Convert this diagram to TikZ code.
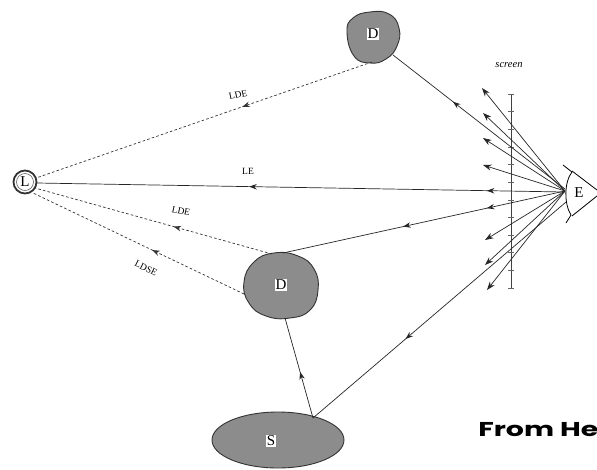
\documentclass[tikz,border=0pt]{standalone}
\usepackage{fontspec}
\setmainfont{Liberation Serif}
\setsansfont{Poppins}
\usetikzlibrary{arrows.meta,decorations.markings}

\tikzset{
  lightpath/.style={line width=0.7pt, black!85},
  dashpath/.style={line width=0.7pt, black!80, dash pattern=on 2.6pt off 2.2pt},
  midarrow/.style={postaction={decorate,decoration={markings,
      mark=at position #1 with {\arrow{Stealth[length=7.5pt,width=5.5pt]}}}}},
  fanray/.style={line width=0.7pt, black!85, -{Stealth[length=8.5pt,width=6pt]}},
  surface/.style={fill=black!45, draw=black!80, line width=0.9pt},
  letterbox/.style={fill=white, inner sep=1pt, font=\fontsize{15}{15}\selectfont},
  pathlabel/.style={font=\fontsize{9.5}{10}\selectfont, inner sep=0pt},
}

\begin{document}
\begin{tikzpicture}[x=1pt,y=-1pt]
  \useasboundingbox (0,0) rectangle (597,469);

  % ---- surfaces ----
  % upper diffuse surface
  \draw[surface] plot[smooth cycle, tension=0.8] coordinates
    {(347,32) (353,18) (370,12) (389,14) (399,28) (397,46) (386,59) (370,63) (354,56)};
  \node[letterbox] (D1) at (373,34) {D};
  % lower diffuse surface
  \draw[surface] plot[smooth cycle, tension=0.8] coordinates
    {(244,282) (254,262) (274,253) (298,256) (314,269) (318,290) (310,310) (290,318) (266,316) (249,303)};
  \node[letterbox] (D2) at (281,285) {D};
  % specular surface
  \draw[surface] (278,440) ellipse [x radius=66, y radius=28];
  \node[letterbox, inner sep=0.8pt] (S) at (271,441) {S};

  % light source
  \draw[line width=1.8pt, black!80] (25,182) circle [radius=11.5];
  \draw[line width=0.5pt, black!70] (25,182) circle [radius=8.5];
  \node[font=\fontsize{15}{15}\selectfont, inner sep=0pt] (L) at (25,182) {L};

  % ---- screen ----
  \draw[line width=0.9pt, black!75] (511,94) coordinate (scrtop) -- (511,288) coordinate (scrbot);
  \foreach \k in {0,...,11}
    \draw[line width=0.6pt, black!60] (508,94+17.6363*\k) -- (514,94+17.6363*\k);
  \node[font=\itshape\fontsize{10.5}{10.5}\selectfont] (scrlabel) at (509,65) {screen};

  % ---- eye ----
  \coordinate (eye) at (565,191);
  \draw[line width=0.8pt] (563,165) -- (572,172);
  \draw[line width=0.8pt] (572,172) .. controls (564,182) and (564,204) .. (571,215);
  \draw[line width=0.8pt] (571,215) -- (566,223);
  \draw[line width=0.8pt] (572,171) -- (597,190);
  \draw[line width=0.8pt] (572,216) -- (597,196);
  \node[font=\fontsize{15}{15}\selectfont, inner sep=0pt] (E) at (579,193) {E};

  % ---- connector end points ----
  \coordinate (eLE) at (565,192);
  \coordinate (eD1) at (565,189);
  \coordinate (eD2) at (565,191);
  \coordinate (eS)  at (566,202);
  \coordinate (d1out) at (393,55);
  \coordinate (d1in)  at (372,62);
  \coordinate (d2out) at (283,253);
  \coordinate (d2top) at (272,254);
  \coordinate (d2left) at (244,294);
  \coordinate (d2bot) at (285,318);
  \coordinate (stop)  at (313,418);
  \coordinate (lR)  at (37,183);
  \coordinate (lUp) at (36,178);
  \coordinate (lDn) at (35,188);
  \coordinate (lLo) at (33,193);

  % ---- light paths (drawn from the eye back towards the light) ----
  \draw[lightpath, midarrow=0.148, midarrow=0.598] (eLE) -- (lR);
  \node[pathlabel] (lblLE) at (248,171) {LE};

  \draw[lightpath, midarrow=0.651] (eD1) -- (d1out);
  \draw[dashpath, midarrow=0.386] (d1in) -- (lUp);
  \node[pathlabel, rotate=12] (lblLDEa) at (238,95) {LDE};

  \draw[lightpath, midarrow=0.277, midarrow=0.574] (eD2) -- (d2out);
  \draw[dashpath, midarrow=0.415] (d2top) -- (lDn);
  \node[pathlabel, rotate=-12] (lblLDEb) at (181,211) {LDE};

  \draw[lightpath, midarrow=0.634] (eS) -- (stop);
  \draw[lightpath, midarrow=0.46] (stop) -- (d2bot);
  \draw[dashpath, midarrow=0.435] (d2left) -- (lLo);
  \node[pathlabel, rotate=-27] (lblLDSE) at (146,268) {LDSE};

  % ---- rays leaving the eye through the screen ----
  \foreach \x/\y [count=\i] in {482/88, 483/113, 483/138, 483/165, 485/240, 485/265, 487/290}
    \draw[fanray] (eye) -- (\x,\y) coordinate (ray\i);

  % ---- caption, cut by the page edge ----
  \begin{scope}
    \clip (0,0) rectangle (597,469);
    \node[anchor=base west, xscale=1.42, font=\sffamily\bfseries\fontsize{20}{20}\selectfont, inner sep=0pt]
      (credit) at (478,436) {From He};
  \end{scope}
\end{tikzpicture}
\end{document}
